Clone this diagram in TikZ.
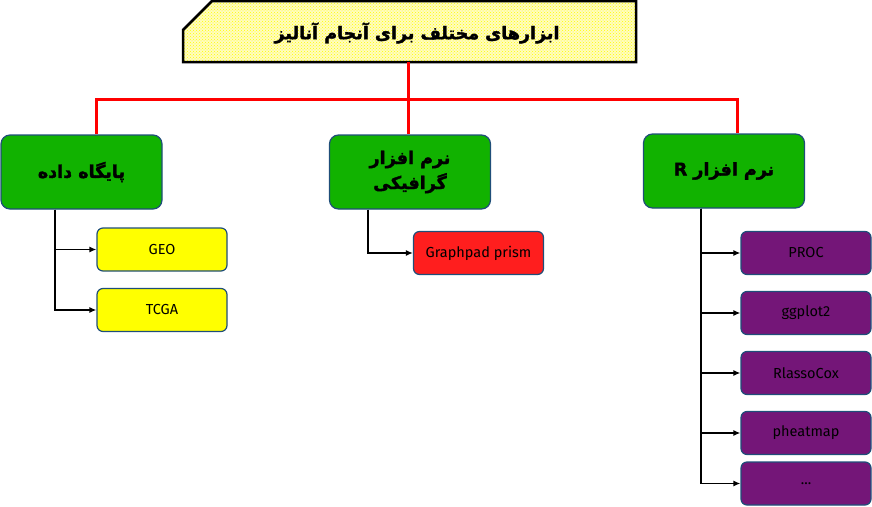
\documentclass[tikz,border=0pt]{standalone}
\usepackage{fontspec}
\setmainfont{Fira Sans}
\newfontfamily\farsi[Script=Arabic,FakeBold=2]{DejaVu Sans Bold}
\TeXXeTstate=1
\usetikzlibrary{patterns,arrows.meta}

\definecolor{boxgreen}{RGB}{17,178,0}
\definecolor{boxedge}{RGB}{31,78,121}
\definecolor{boxpurple}{RGB}{116,22,120}
\definecolor{boxred}{RGB}{255,30,30}
\definecolor{boxyellow}{RGB}{255,255,0}

\tikzset{
	groupbox/.style={draw=boxedge,line width=1.2pt,fill=boxgreen,rounded corners=9pt,minimum width=161pt,minimum height=74pt,align=center,font=\farsi\fontsize{17.5}{25}\selectfont},
	toolbox/.style={draw=boxedge,line width=1.2pt,rounded corners=6pt,minimum width=130pt,minimum height=43pt,font=\fontsize{14.5}{16}\selectfont},
	redline/.style={red,line width=3pt},
	feed/.style={line width=1.6pt,-{Latex[length=7pt,width=6pt]}}
}

\begin{document}
\begin{tikzpicture}[x=1pt,y=-1pt]
		\useasboundingbox (0,0) rectangle (872,506);
		% title banner
		\draw[line width=2.5pt,preaction={fill=yellow!25},pattern=crosshatch dots,pattern color=yellow] (212,1) -- (636,1) -- (636,62) -- (183,62) -- (183,30) -- cycle;
		\node (title) at (417,33) {\farsi\fontsize{17.5}{20}\selectfont\beginR ابزارهای مختلف برای آنجام آنالیز\endR};
		\coordinate (titlebase) at (408,62);
		\coordinate (bus) at (408,99);
		% groups
		\node[groupbox] (db) at (81.5,172) {\beginR پایگاه داده\endR};
		\node[groupbox] (gsoft) at (410,172) {\beginR نرم افزار\endR\\\beginR گرافیکی\endR};
		\node[groupbox] (rsoft) at (724,171) {\beginR نرم افزار R\endR};
		% tools
		\node[toolbox,fill=boxyellow] (geo) at (162,249.5) {GEO};
		\node[toolbox,fill=boxyellow] (tcga) at (162,310) {TCGA};
		\node[toolbox,fill=boxred] (prism) at (478.5,253) {Graphpad prism};
		\node[toolbox,fill=boxpurple] (proc) at (806,253) {PROC};
		\node[toolbox,fill=boxpurple] (ggplot) at (806,313) {ggplot2};
		\node[toolbox,fill=boxpurple] (lasso) at (806,373) {RlassoCox};
		\node[toolbox,fill=boxpurple] (pheat) at (806,433) {pheatmap};
		\node[toolbox,fill=boxpurple] (more) at (806,483.5) {...};
		% red tree
		\draw[redline] (titlebase) -- (titlebase |- gsoft.north);
		\draw[redline] ([xshift=14.5pt]db.north) |- (bus) -| ([xshift=13pt]rsoft.north);
		% black arrows
		\draw[feed] ([xshift=-26.5pt]db.south) |- (geo.west);
		\draw[feed] ([xshift=-26.5pt]db.south) |- (tcga.west);
		\draw[feed] ([xshift=-42pt]gsoft.south) |- (prism.west);
		\foreach \t in {proc,ggplot,lasso,pheat,more}
			\draw[feed] ([xshift=-23pt]rsoft.south) |- (\t.west);
	\end{tikzpicture}
\end{document}
